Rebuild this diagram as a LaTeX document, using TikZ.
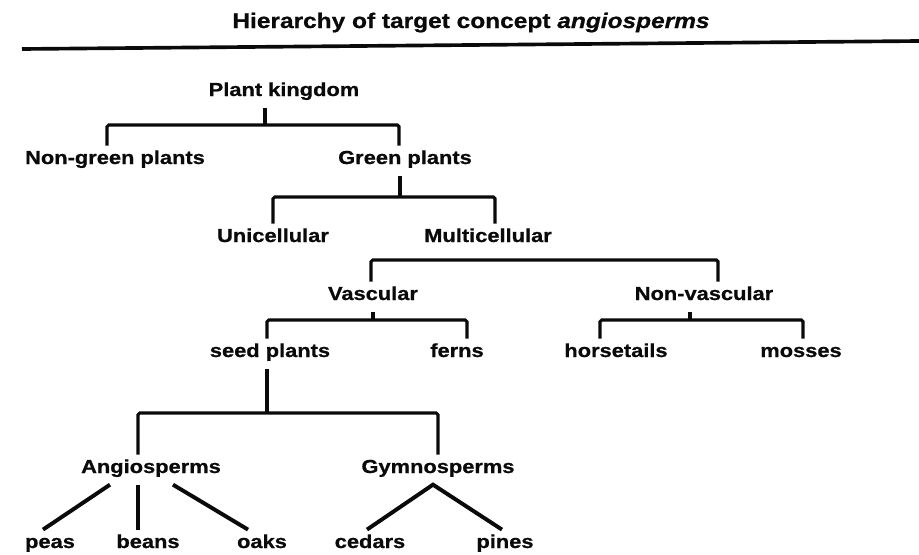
\documentclass[tikz,border=0pt]{standalone}
\usepackage{fontspec}
\setmainfont{Liberation Sans}[FakeStretch=1.16,BoldFeatures={FakeBold=0.8},BoldItalicFeatures={FakeBold=0.8}]
\usetikzlibrary{positioning,calc}
\definecolor{ink}{RGB}{10,10,10}
\tikzset{
  concept/.style={anchor=base,inner sep=2mm,text=ink,
    font=\fontsize{13.4}{16}\selectfont\bfseries,text height=0.72em,text depth=0.24em},
  heading/.style={anchor=base,inner sep=0pt,text=ink,font=\fontsize{15}{18}\selectfont\bfseries},
  link/.style={draw=ink,line width=2.2pt,rounded corners=1.2pt},
  twig/.style={draw=ink,line width=2.8pt},
  headline/.style={draw=ink,line width=2.6pt},
}
\begin{document}
\begin{tikzpicture}[x=0.25mm,y=-0.25mm]
  \useasboundingbox (0,0) rectangle (919,555);
  % title and rule
  \node[heading] (title) at (471,28) {Hierarchy of target concept \textit{angiosperms}};
  \coordinate (rl) at (22,49);
  \coordinate (rr) at (919,41);
  \draw[headline] (rl) -- (rr);
  % concepts
  \node[concept] (pk) at (284,96) {Plant kingdom};
  \node[concept] (ngp) at (115,164) {Non-green plants};
  \node[concept] (gp) at (405,164) {Green plants};
  \node[concept] (uni) at (273,242) {Unicellular};
  \node[concept] (multi) at (488,242) {Multicellular};
  \node[concept] (vasc) at (373,300) {Vascular};
  \node[concept] (nonv) at (704,300) {Non-vascular};
  \node[concept] (seed) at (270,357) {seed plants};
  \node[concept] (ferns) at (457,357) {ferns};
  \node[concept] (horse) at (616,357) {horsetails};
  \node[concept] (mosses) at (801,357) {mosses};
  \node[concept] (ang) at (151,473) {Angiosperms};
  \node[concept] (gym) at (438,473) {Gymnosperms};
  \node[concept] (peas) at (50,548) {peas};
  \node[concept] (beans) at (148,548) {beans};
  \node[concept] (oaks) at (262,548) {oaks};
  \node[concept] (cedars) at (370,548) {cedars};
  \node[concept] (pines) at (505,548) {pines};
  % brackets
  \draw[link] (pk.south -| 265,0) -- (265,125);
  \draw[link] (ngp.north -| 107,0) |- (265,125) -| (gp.north -| 399,0);
  \draw[link] (gp.south -| 400,0) -- (400,197);
  \draw[link] (uni.north -| 273,0) |- (400,197) -| (multi.north -| 495,0);
  \draw[link] (vasc.north -| 371,0) |- (718,260) -- (nonv.north -| 718,0);
  \draw[link] (vasc.south -| 373,0) -- (373,320);
  \draw[link] (seed.north -| 267,0) |- (373,320) -| (ferns.north -| 467,0);
  \draw[link] (nonv.south -| 690,0) -- (690,320);
  \draw[link] (horse.north -| 600,0) |- (690,320) -| (mosses.north -| 803,0);
  \draw[link] (seed.south -| 267,0) -- (267,413);
  \draw[link] (ang.north -| 138,0) |- (267,413) -| (gym.north -| 438,0);
  % leaves
  \draw[twig] (ang.south -| 110,0) -- (peas.north -| 43,0);
  \draw[twig] (ang.south -| 138,0) -- (beans.north -| 138,0);
  \draw[twig] (ang.south -| 173,0) -- (oaks.north -| 248,0);
  \draw[twig] (cedars.north -| 367,0) -- (gym.south -| 433,0) -- (pines.north -| 502,0);
\end{tikzpicture}
\end{document}
